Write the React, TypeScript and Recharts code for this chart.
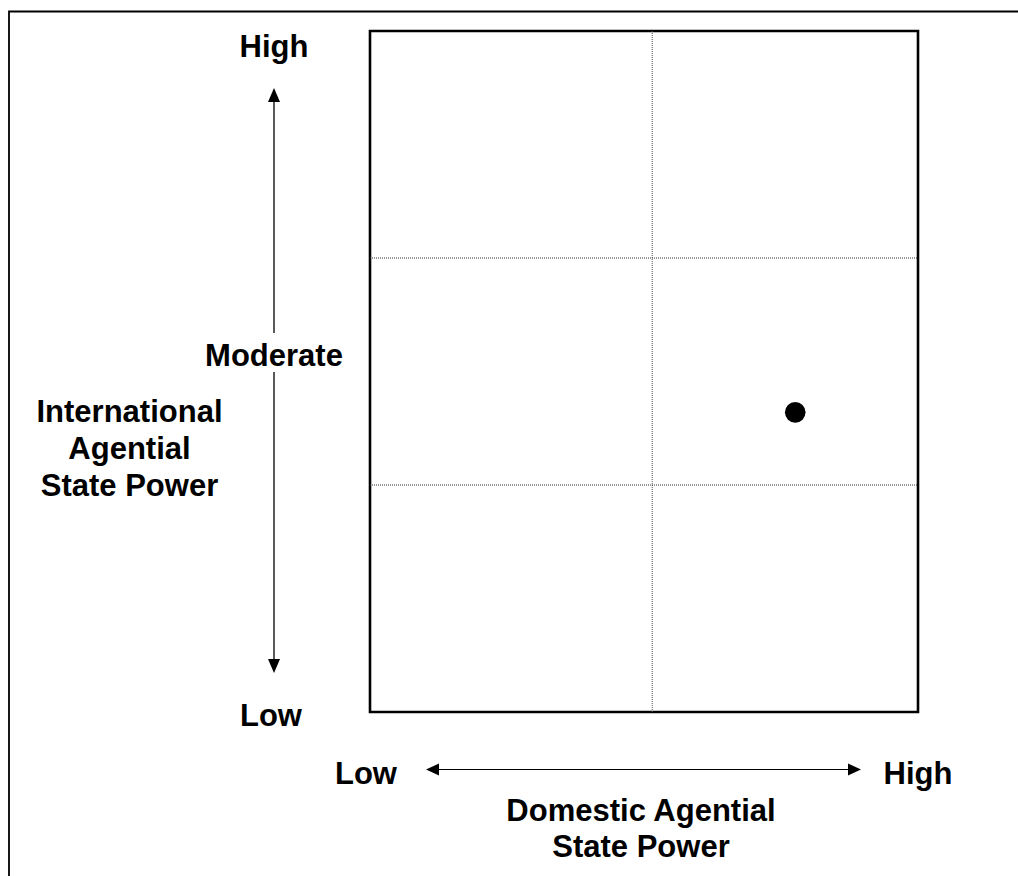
import React from 'react';
import { ScatterChart, Scatter, XAxis, YAxis, ReferenceLine, ReferenceArea } from 'recharts';

// axis level labels
const yLevels = ['Low', 'Moderate', 'High'];
const xLevels = ['Low', 'High'];
const yTitle = ['International', 'Agential', 'State Power'];
const xTitle = ['Domestic Agential', 'State Power'];

// grid dividers (in data units, 0..1)
const xDividers = [0.515];
const yDividers = [1 / 3, 2 / 3];

// the plotted case
const caseX = [0.776];
const caseY = [0.44];

const points = caseX.map((x, i) => ({ x, y: caseY[i] }));

const FONT = '"Liberation Sans", Arial, sans-serif';
const W = 1018;
const H = 876;

const Dot = (props: any) => <circle cx={props.cx} cy={props.cy} r={10.3} fill="#000" />;

const txt = (s: string, x: number, y: number, key: string) => (
  <text key={key} x={x} y={y} textAnchor="middle" fontFamily={FONT} fontWeight="bold" fontSize={31} fill="#000">
    {s}
  </text>
);

const App: React.FC = () => {
  return (
    <div style={{ position: 'relative', width: W, height: H, background: '#fff', overflow: 'hidden' }}>
      <style>{`body{margin:0;}`}</style>
      <ScatterChart
        width={W}
        height={H}
        margin={{ top: 31, right: 100, bottom: 164, left: 370 }}
        style={{ position: 'absolute', left: 0, top: 0 }}
      >
        <XAxis type="number" dataKey="x" domain={[0, 1]} hide />
        <YAxis type="number" dataKey="y" domain={[0, 1]} hide />
        {xDividers.map((v) => (
          <ReferenceLine key={'vx' + v} x={v} stroke="#555" strokeDasharray="1 1" strokeWidth={1} />
        ))}
        {yDividers.map((v) => (
          <ReferenceLine key={'hy' + v} y={v} stroke="#333" strokeDasharray="1 1" strokeWidth={1} />
        ))}
        <ReferenceArea x1={0} x2={1} y1={0} y2={1} fill="none" stroke="#000" strokeWidth={2.6} fillOpacity={0} />
        <Scatter data={points} shape={<Dot />} isAnimationActive={false} />
      </ScatterChart>

      <svg width={W} height={H} style={{ position: 'absolute', left: 0, top: 0, pointerEvents: 'none' }}>
        {/* outer frame, cut off at the right and bottom */}
        <path d={`M 9 ${H} V 11.5 H ${W}`} fill="none" stroke="#000" strokeWidth={1.8} />

        {/* vertical arrow */}
        <line x1={274} y1={100} x2={274} y2={333} stroke="#000" strokeWidth={1.3} />
        <line x1={274} y1={372} x2={274} y2={661} stroke="#000" strokeWidth={1.3} />
        <polygon points="274,88 268,102 280,102" fill="#000" />
        <polygon points="274,673 268,659 280,659" fill="#000" />

        {/* horizontal arrow */}
        <line x1={437} y1={769.5} x2={850} y2={769.5} stroke="#000" strokeWidth={1.1} />
        <polygon points="426,769.5 439,763.5 439,775.5" fill="#000" />
        <polygon points="861,769.5 848,763.5 848,775.5" fill="#000" />

        {txt(yLevels[2], 274, 57, 'yh')}
        {txt(yLevels[1], 274, 366, 'ym')}
        {txt(yLevels[0], 271, 726, 'yl')}
        {yTitle.map((s, i) => txt(s, 129.5, 422 + i * 37, 'yt' + i))}

        {txt(xLevels[0], 366, 784, 'xl')}
        {txt(xLevels[1], 918, 784, 'xh')}
        {xTitle.map((s, i) => txt(s, 641, 821 + i * 36, 'xt' + i))}
      </svg>
    </div>
  );
};

export default App;
